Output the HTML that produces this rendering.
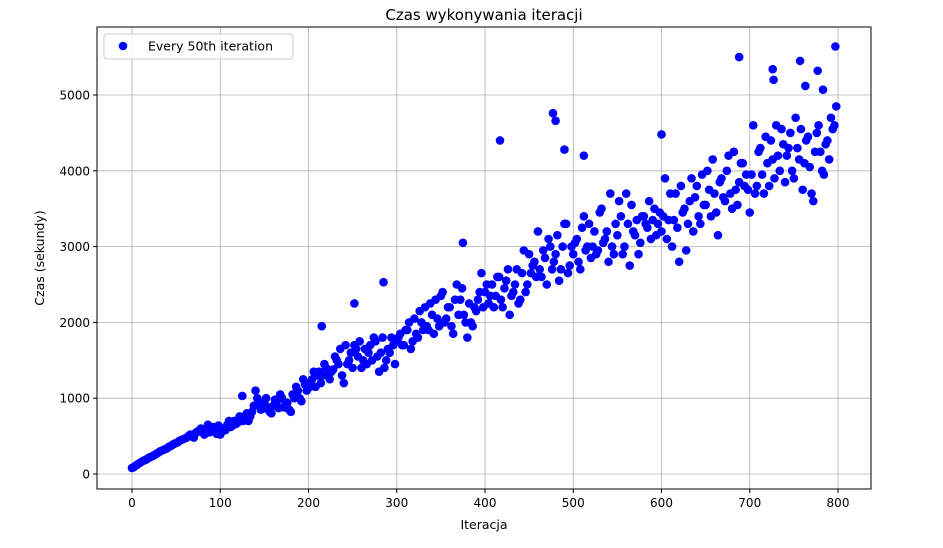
<!DOCTYPE html>
<html><head><meta charset="utf-8"><style>
body{margin:0;background:#fff;}
svg{display:block;font-family:"DejaVu Sans","Liberation Sans",sans-serif;}
</style></head><body>
<svg id="chart" width="943" height="548" viewBox="0 0 943 548"></svg>
<script>
const xTicks=[0,100,200,300,400,500,600,700,800];
const yTicks=[0,1000,2000,3000,4000,5000];
const seriesA=[80,110,140,170,190,220,240,270,300,320,340,370,400,420,450,470,500,510,540,560,580,600,550,620,530,
520,600,650,620,700,680,720,750,700,820,1100,900,860,1000,820,900,950,1050,880,940,820,1000,1100,960,1180,
1200,1250,1150,1350,1300,1400,1250,1380,1500,1650,1200,1450,1600,1700,1550,1400,1650,1600,1500,1750,1350,1800,1500,1600,1700,
1750,1850,1700,1900,1650,2050,1800,2000,2200,1900,2100,2300,1950,2400,2050,2200,1850,2500,2300,2100,1800,2000,2200,2300,2650,
2400,2250,2500,2350,2600,2200,2550,2100,2400,2700,2300,2950,2500,2650,2800,3200,2600,2850,3100,2700,2900,2550,3000,3300,2750,
2900,3100,2700,3400,3000,2850,3200,2950,3500,3100,2800,3000,3300,3600,2900,3700,2750,3200,3350,3050,3400,3250,3100,3500,3300,
3200,3900,3350,3000,3700,2800,3450,2950,3600,3200,3800,3300,3550,4000,3400,3700,3150,3900,3600,4200,3500,3750,3850,4100,3950,
3450,4600,3800,4300,3700,4100,4400,3900,4200,4550,3850,4300,4000,4700,4150,3750,4400,4050,3600,4500,4250,3950,4400,4700,4600];
const seriesB=[90,125,155,180,205,230,255,285,310,330,360,385,410,440,460,480,520,480,560,600,520,650,570,600,640,
560,580,700,640,660,760,700,800,760,900,1000,850,950,880,800,980,870,1000,920,850,1050,1150,1000,1250,1100,
1150,1350,1300,1200,1450,1300,1350,1550,1450,1300,1700,1500,1400,1650,1750,1500,1450,1700,1800,1550,1600,1400,1650,1800,1450,
1800,1700,1900,2000,1750,1850,2150,1900,1950,2250,1850,2050,2350,2000,2200,1950,2300,2100,2450,2000,2250,1950,2150,2400,2200,
2500,2350,2200,2600,2300,2450,2700,2350,2500,2250,2650,2400,2900,2750,2600,2700,2950,2500,3000,2800,3150,2700,3300,2650,3000,
3050,2800,3250,2950,3300,3000,2900,3450,3050,3200,3700,2900,3150,3400,3000,3300,3550,3150,2900,3400,3300,3600,3350,3150,3450,
3400,3100,3700,3350,3250,3800,3500,3300,3900,3650,3400,3950,3550,3750,4150,3450,3850,3650,4000,3700,4250,3550,4100,3800,3750,
3950,3700,4250,3950,4450,3800,4150,4600,4000,4350,4200,4500,3900,4300,4550,4100,4450,3700,4250,4600,4000,4350,4150,4550,4850];
const outlierX=[125,215,252,285,375,417,477,480,490,512,600,688,726,727,757,763,777,797,783];
const outlierY=[1030,1950,2250,2530,3050,4400,4760,4660,4280,4200,4480,5500,5340,5200,5450,5120,5320,5640,5070];

const L=97,R=871,T=27,B=489;
const sx=v=>132+v*(838-132)/800;
const sy=v=>474-v*(474-95)/5000;
const svg=document.getElementById('chart');
const NS='http://www.w3.org/2000/svg';
function mk(tag,attrs,text){const e=document.createElementNS(NS,tag);for(const k in attrs)e.setAttribute(k,attrs[k]);if(text!==undefined)e.textContent=text;svg.appendChild(e);return e;}

xTicks.forEach(t=>{
  const g=mk('line',{x1:sx(t),x2:sx(t),y1:T,y2:B,stroke:'#b0b0b0','stroke-width':0.8});
  
  
  mk('line',{x1:sx(t),x2:sx(t),y1:B,y2:B+4,stroke:'#000'});
  const l=mk('text',{x:sx(t),y:B+18,'text-anchor':'middle','font-size':12,fill:'#000'},t);
  
  
});
yTicks.forEach(t=>{
  const g=mk('line',{x1:L,x2:R,y1:sy(t),y2:sy(t),stroke:'#b0b0b0','stroke-width':0.8});
  
  
  mk('line',{x1:L-4,x2:L,y1:sy(t),y2:sy(t),stroke:'#000'});
  const l=mk('text',{x:L-7,y:sy(t)+4.5,'text-anchor':'end','font-size':12,fill:'#000'},t);
  
  
});

function dot(x,y){
  const c=mk('circle',{cx:sx(x),cy:sy(y),r:4.3,fill:'#0000ff'});
  
  
}
seriesA.forEach((v,i)=>dot(i*4,v));
seriesB.forEach((v,i)=>dot(i*4+2,v));
outlierX.forEach((x,i)=>dot(x,outlierY[i]));

const frame=mk('rect',{x:L,y:T,width:R-L,height:B-T,fill:'none',stroke:'#000','stroke-width':1});



const title=mk('text',{x:(L+R)/2,y:20,'text-anchor':'middle','font-size':15,fill:'#000'},'Czas wykonywania iteracji');


const xt=mk('text',{x:(L+R)/2,y:529,'text-anchor':'middle','font-size':12.5,fill:'#000'},'Iteracja');


const yt=mk('text',{x:44,y:(T+B)/2,'text-anchor':'middle','font-size':12.5,fill:'#000',transform:`rotate(-90 44 ${(T+B)/2})`},'Czas (sekundy)');



const lg=mk('rect',{x:104,y:34,width:189,height:25,rx:3,fill:'#fff','fill-opacity':0.8,stroke:'#ccc'});


const lm=mk('circle',{cx:123,cy:46,r:4.3,fill:'#0000ff'});


const lt=mk('text',{x:148,y:50.5,'font-size':12.5,fill:'#000'},'Every 50th iteration');


</script>
</body></html>
